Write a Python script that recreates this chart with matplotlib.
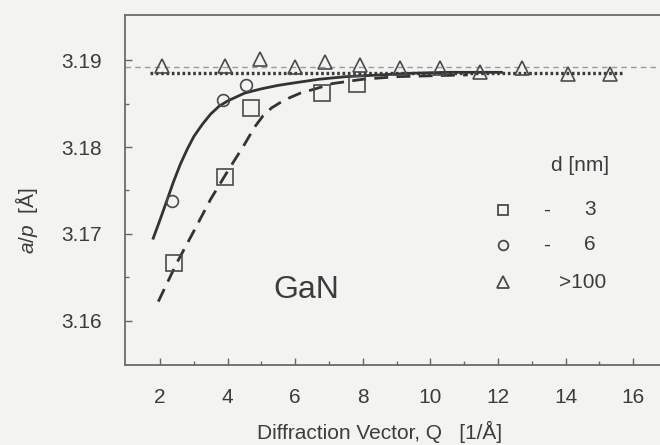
import matplotlib
matplotlib.use("Agg")
import matplotlib.pyplot as plt

plt.rcParams['font.family'] = ['Liberation Sans', 'DejaVu Sans']
plt.rcParams['mathtext.fontset'] = 'custom'
plt.rcParams['mathtext.it'] = 'Liberation Sans:italic'
plt.rcParams['mathtext.rm'] = 'Liberation Sans'

# Measured apparent lattice parameter a/p versus diffraction vector Q
q_3nm = [2.41, 3.92, 4.68, 6.78, 7.82]
a_3nm = [3.1666, 3.1765, 3.1845, 3.1862, 3.1873]

q_6nm = [2.35, 3.87, 4.53]
a_6nm = [3.1738, 3.1854, 3.1871]

q_bulk = [2.06, 3.92, 4.95, 5.99, 6.88, 7.92, 9.10, 10.28, 11.47, 12.70, 14.07, 15.30]
a_bulk = [3.1893, 3.1893, 3.1901, 3.1892, 3.1898, 3.1894, 3.1891, 3.1891,
          3.1886, 3.1891, 3.1884, 3.1884]

# Model curves for the nanocrystals
fit6_q = [1.80, 2.00, 2.21, 2.40, 2.60, 2.80, 3.00, 3.25, 3.50, 3.75, 4.00,
          4.50, 5.00, 5.50, 6.00, 6.70, 7.50, 8.50, 9.50, 10.50, 12.10]
fit6_a = [3.1695, 3.1716, 3.1739, 3.1760, 3.1780, 3.1797, 3.1812, 3.1826,
          3.1838, 3.1847, 3.1853, 3.1862, 3.1867, 3.1871, 3.1874, 3.1878,
          3.1881, 3.1883, 3.1885, 3.1886, 3.1886]

fit3_q = [1.95, 2.49, 3.00, 3.50, 4.00, 4.50, 4.80, 5.05, 5.30, 5.55, 5.85,
          6.15, 6.60, 7.10, 8.00, 9.00, 10.00, 11.10]
fit3_a = [3.1622, 3.1666, 3.1703, 3.1740, 3.1772, 3.1803, 3.1823, 3.1836,
          3.1845, 3.1851, 3.1857, 3.1862, 3.1867, 3.1873, 3.1878, 3.1881,
          3.1882, 3.1883]

# Bulk level and reference value
bulk_q = [1.70, 15.70]
bulk_a = [3.1885, 3.1885]
ref_a = 3.1892

x_ticks = [2, 4, 6, 8, 10, 12, 14, 16]
y_ticks = [3.16, 3.17, 3.18, 3.19]
legend_labels = ["3", "6", ">100"]

bg = '#f3f3f1'
ink = '#3c3c3c'
edge = '#4a4a4a'

fig = plt.figure(figsize=(6.6, 4.45), dpi=100, facecolor=bg)
ax = fig.add_axes([0.1894, 0.1798, 0.8315, 0.7865], facecolor=bg)

ax.axhline(ref_a, color='#9a9a9a', lw=1.0, ls=(0, (4, 3)), zorder=1)
ax.plot(bulk_q, bulk_a, color='#3a3a3a', lw=2.4, ls=(0, (0.8, 0.8)), zorder=2)
ax.plot(fit6_q, fit6_a, color='#333333', lw=2.0, ls='-', zorder=2,
        solid_joinstyle='round')
ax.plot(fit3_q, fit3_a, color='#333333', lw=2.0, ls=(0, (5, 3)), zorder=2)

ax.plot(q_3nm, a_3nm, ls='none', marker='s', ms=11, mfc='none',
        mec=edge, mew=1.2, zorder=3)
ax.plot(q_6nm, a_6nm, ls='none', marker='o', ms=8.5, mfc='none',
        mec=edge, mew=1.2, zorder=3)
ax.plot(q_bulk, a_bulk, ls='none', marker='^', ms=10.5, mfc='none',
        mec=edge, mew=1.2, zorder=3)

ax.set_xlim(0.965, 17.2)
ax.set_ylim(3.1549, 3.1952)
ax.set_xticks(x_ticks)
ax.set_xticks([3, 5, 7, 9, 11, 13, 15], minor=True)
ax.set_yticks(y_ticks)
ax.set_yticks([3.165, 3.175, 3.185], minor=True)
ax.set_yticklabels([f"{v:.2f}" for v in y_ticks])
ax.tick_params(which='both', direction='in', length=5, width=1.0,
               color='#666666', labelsize=15, labelcolor=ink, pad=16.5)
ax.tick_params(which='minor', length=3)

for side in ('left', 'bottom', 'top'):
    ax.spines[side].set_color('#6a6a6a')
    ax.spines[side].set_linewidth(1.3)
ax.spines['right'].set_visible(False)

ax.text(5.34, 3.1626, "GaN", fontsize=23, color=ink, ha='left', va='baseline')

# Key for crystallite size
ax.text(0.829, 0.571, "d [nm]", transform=ax.transAxes, fontsize=15,
        color=ink, ha='center', va='center')
key_y = [0.443, 0.343, 0.237]
key_markers = ['s', 'o', '^']
key_ms = [7, 7, 8]
for yk, mk, ms, lab in zip(key_y, key_markers, key_ms, legend_labels):
    ax.plot([0.689], [yk], transform=ax.transAxes, ls='none', marker=mk,
            ms=ms, mfc='none', mec=edge, mew=1.3, clip_on=False)
    if lab.startswith('>'):
        ax.text(0.833, yk, lab, transform=ax.transAxes, fontsize=15,
                color=ink, ha='center', va='center')
    else:
        ax.text(0.769, yk, "-", transform=ax.transAxes, fontsize=15,
                color=ink, ha='center', va='center')
        ax.text(0.847, yk, lab, transform=ax.transAxes, fontsize=15,
                color=ink, ha='center', va='center')

fig.text(380 / 660, 1 - 432 / 445, "Diffraction Vector, Q   [1/Å]",
         fontsize=15, color=ink, ha='center', va='center')
fig.text(27 / 660, 1 - 221 / 445, r"$\it{a/p}$  [Å]", fontsize=15, color=ink,
         rotation=90, ha='center', va='center')

fig.savefig("out.png", dpi=100, facecolor=bg)
